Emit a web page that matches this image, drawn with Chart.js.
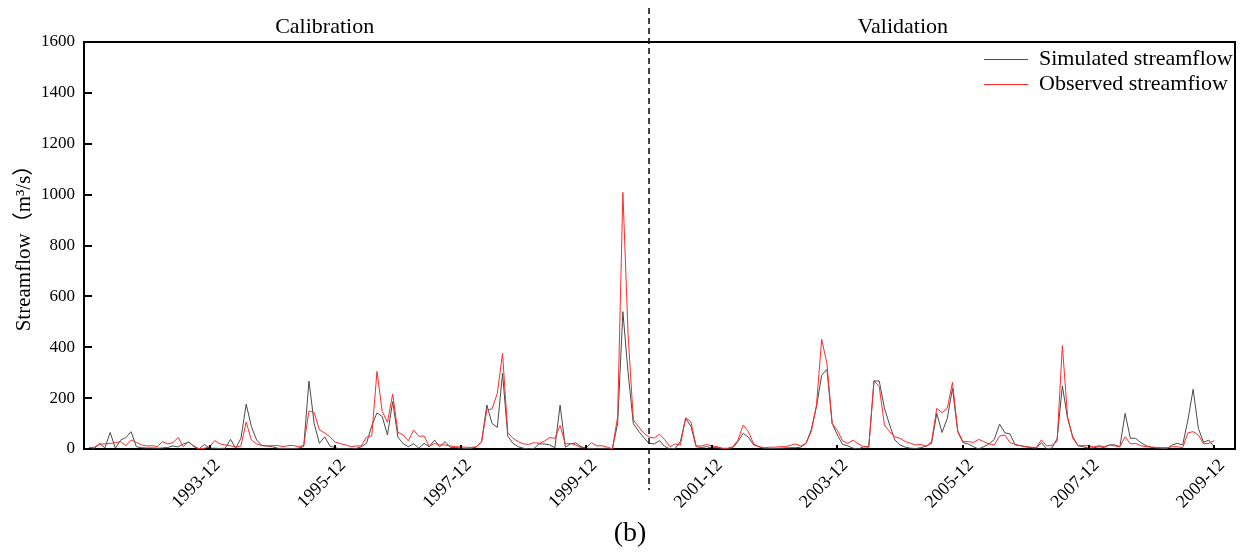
<!DOCTYPE html>
<html>
<head>
<meta charset="utf-8">
<script src="https://cdn.jsdelivr.net/npm/chart.js@4.4.1/dist/chart.umd.min.js"></script>
<style>
  html, body { margin: 0; padding: 0; background: #ffffff; }
  #wrap { width: 1247px; height: 554px; }
</style>
</head>
<body>
<div id="wrap"><canvas id="c" width="1247" height="554"></canvas></div>
<script>
// Monthly streamflow (m3/s), January 1992 onward
const startYear = 1992;

const simulated = [
  5, 3, 20, 5, 65, 3, 35, 45, 68, 9, 5, 4,
  4, 3, 4, 6, 12, 8, 20, 26, 12, 0, 18, 3,
  3, 2, 3, 38, 3, 42, 176, 88, 35, 14, 12, 9,
  3, 2, 2, 2, 3, 10, 267, 100, 22, 48, 12, 5,
  0, 0, 0, 2, 9, 22, 92, 142, 128, 55, 186, 47,
  21, 9, 21, 3, 22, 9, 35, 9, 29, 7, 6, 3,
  2, 2, 8, 29, 173, 100, 85, 297, 51, 22, 9, 3,
  0, 2, 20, 20, 16, 5, 173, 7, 20, 24, 9, 3,
  2, 0, 1, 1, 1, 100, 540, 300, 100, 70, 45, 22,
  20, 33, 10, 0, 2, 30, 120, 90, 9, 6, 9, 5,
  5, 2, 2, 5, 29, 62, 46, 16, 9, 3, 2, 2,
  3, 4, 5, 5, 7, 22, 75, 166, 290, 313, 101, 55,
  18, 12, 3, 0, 9, 9, 268, 267, 160, 94, 35, 16,
  7, 3, 2, 5, 13, 22, 140, 65, 120, 238, 68, 25,
  20, 9, 0, 9, 20, 38, 98, 64, 59, 16, 13, 9,
  5, 3, 25, 0, 4, 40, 248, 120, 48, 13, 9, 3,
  5, 9, 6, 16, 16, 9, 140, 42, 42, 25, 13, 6,
  4, 2, 2, 16, 22, 16, 114, 235, 81, 26, 35, 9
];

const observed = [
  5, 7, 20, 20, 22, 25, 29, 13, 35, 26, 16, 12,
  13, 9, 29, 20, 25, 45, 9, 29, 9, 0, 3, 9,
  33, 20, 16, 13, 7, 12, 106, 35, 20, 13, 12, 13,
  14, 9, 13, 14, 9, 14, 150, 143, 75, 63, 48, 27,
  21, 16, 9, 12, 12, 47, 52, 305, 148, 105, 216, 66,
  55, 32, 75, 50, 51, 10, 22, 16, 16, 12, 9, 8,
  7, 6, 9, 29, 153, 158, 219, 376, 65, 42, 29, 20,
  18, 25, 22, 31, 45, 42, 92, 20, 22, 16, 5, 5,
  25, 12, 13, 7, 1, 127, 1009, 450, 114, 88, 62, 47,
  43, 58, 37, 9, 20, 16, 123, 107, 12, 12, 18, 12,
  9, 3, 3, 9, 35, 94, 68, 20, 9, 5, 7, 7,
  9, 9, 14, 20, 12, 22, 68, 173, 431, 337, 100, 73,
  32, 22, 35, 20, 9, 7, 268, 245, 94, 68, 48, 42,
  29, 22, 16, 18, 9, 29, 160, 143, 160, 262, 72, 29,
  29, 26, 38, 29, 20, 16, 51, 55, 25, 18, 13, 9,
  7, 6, 36, 12, 14, 30, 406, 127, 42, 13, 13, 13,
  8, 13, 9, 16, 12, 9, 48, 20, 22, 13, 9, 8,
  6, 6, 5, 9, 9, 5, 64, 68, 55, 20, 22, 33
];

const tickLabels = ['1993-12', '1995-12', '1997-12', '1999-12', '2001-12', '2003-12', '2005-12', '2007-12', '2009-12'];
const yTicks = [0, 200, 400, 600, 800, 1000, 1200, 1400, 1600];
const seriesNames = ['Simulated streamflow', 'Observed streamfiow'];
const periodNames = ['Calibration', 'Validation'];
const splitMonth = '2000-12';
const panelTag = '(b)';
const yTitle = 'Streamflow\uFF08m\u00B3/s\uFF09';

// month strings for each sample
const months = simulated.map((_, i) => {
  const y = startYear + Math.floor(i / 12);
  const m = (i % 12) + 1;
  return y + '-' + (m < 10 ? '0' + m : m);
});
const tickIdx = tickLabels.map(l => months.indexOf(l));
const splitIdx = months.indexOf(splitMonth);

const SERIF = '"Liberation Serif", "Times New Roman", "Noto Sans CJK SC", serif';
Chart.defaults.font.family = SERIF;
Chart.defaults.color = '#000';

const colors = ['#4a4a4a', '#ff2a2a'];

// frame, inward ticks, split line, legend and captions
const decorations = {
  id: 'decorations',
  afterDraw(chart) {
    const { ctx, chartArea: a, scales: { x, y } } = chart;
    ctx.save();
    ctx.strokeStyle = '#000';
    ctx.lineWidth = 2;
    ctx.beginPath();
    ctx.moveTo(a.left, a.top); ctx.lineTo(a.right, a.top); ctx.lineTo(a.right, a.bottom);
    ctx.stroke();

    // inward ticks
    yTicks.forEach(v => {
      const py = Math.round(y.getPixelForValue(v));
      ctx.beginPath(); ctx.moveTo(a.left, py); ctx.lineTo(a.left + 8, py); ctx.stroke();
    });
    tickIdx.forEach(v => {
      const px = Math.round(x.getPixelForValue(v));
      ctx.beginPath(); ctx.moveTo(px, a.bottom); ctx.lineTo(px, a.bottom - 4); ctx.stroke();
    });

    // calibration / validation split
    const sx = x.getPixelForValue(splitIdx);
    ctx.lineWidth = 1.5;
    ctx.setLineDash([6, 4]);
    ctx.beginPath(); ctx.moveTo(sx, 8); ctx.lineTo(sx, 490); ctx.stroke();
    ctx.setLineDash([]);

    // period captions
    ctx.fillStyle = '#000';
    ctx.font = '22px ' + SERIF;
    ctx.textAlign = 'center';
    ctx.textBaseline = 'middle';
    ctx.fillText(periodNames[0], x.getPixelForValue(45), 27);
    ctx.fillText(periodNames[1], x.getPixelForValue(155.5), 27);

    // legend
    chart.data.datasets.forEach((ds, i) => {
      const ly = 59 + i * 25;
      ctx.strokeStyle = ds.borderColor;
      ctx.lineWidth = 1;
      ctx.beginPath(); ctx.moveTo(984, ly + 0.5); ctx.lineTo(1028, ly + 0.5); ctx.stroke();
      ctx.textAlign = 'left';
      ctx.fillText(ds.label, 1039, ly);
    });

    // y axis title
    ctx.save();
    ctx.translate(24, 243);
    ctx.rotate(-Math.PI / 2);
    ctx.textAlign = 'center';
    ctx.font = '21px ' + SERIF;
    ctx.fillText(yTitle, 0, 0);
    ctx.restore();

    // panel tag
    ctx.font = '28px ' + SERIF;
    ctx.textAlign = 'center';
    ctx.fillText(panelTag, 630, 534);
    ctx.restore();
  }
};

new Chart(document.getElementById('c').getContext('2d'), {
  type: 'line',
  data: {
    datasets: [
      { label: seriesNames[0], data: simulated.map((v, i) => ({ x: i, y: v })),
        borderColor: colors[0], borderWidth: 1, pointRadius: 0, tension: 0, order: 1 },
      { label: seriesNames[1], data: observed.map((v, i) => ({ x: i, y: v })),
        borderColor: colors[1], borderWidth: 1, pointRadius: 0, tension: 0, order: 0 }
    ]
  },
  options: {
    responsive: false,
    animation: false,
    devicePixelRatio: 1,
    layout: { padding: { top: 42, right: 12, left: 0, bottom: 0 } },
    plugins: { legend: { display: false }, tooltip: { enabled: false } },
    scales: {
      x: {
        type: 'linear', min: -1, max: 219,
        afterBuildTicks: s => { s.ticks = tickIdx.map(v => ({ value: v })); },
        afterFit: s => { s.height = 105; },
        ticks: { autoSkip: false, minRotation: 45, maxRotation: 45, padding: 6, labelOffset: 8,
                 font: { size: 18 }, color: '#000', callback: v => months[v] },
        grid: { drawOnChartArea: false, drawTicks: false },
        border: { display: true, color: '#000', width: 2 }
      },
      y: {
        min: 0, max: 1600,
        afterBuildTicks: s => { s.ticks = yTicks.map(v => ({ value: v })); },
        afterFit: s => { s.width = 84; },
        ticks: { padding: 9, font: { size: 17 }, color: '#000', callback: v => String(v) },
        grid: { drawOnChartArea: false, drawTicks: false },
        border: { display: true, color: '#000', width: 2 }
      }
    }
  },
  plugins: [decorations]
});
</script>
</body>
</html>
